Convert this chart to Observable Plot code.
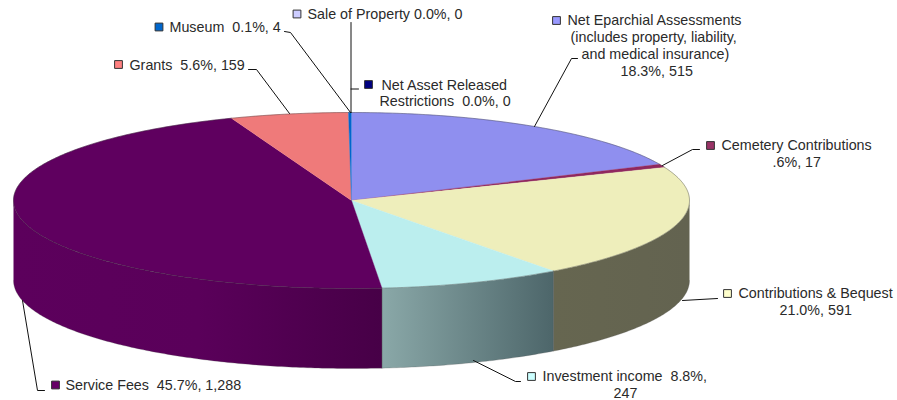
<!DOCTYPE html>
<html>
<head>
<meta charset="utf-8">
<script src="https://cdn.jsdelivr.net/npm/d3@7"></script>
<script src="https://cdn.jsdelivr.net/npm/@observablehq/plot@0.6"></script>
<style>
html,body{margin:0;padding:0;background:#fff;}
svg{display:block;}
</style>
</head>
<body>
<div id="chart"></div>
<script>
// ---- data, clockwise from the top of the pie ----
const categories = ["Net Asset Released Restrictions","Net Eparchial Assessments","Cemetery Contributions","Contributions & Bequest","Investment income","Service Fees","Grants","Museum","Sale of Property"];
const values = [0,515,17,591,247,1288,159,4,0];
const topColors = ["#000080","#8f8fef","#90285f","#eeeebb","#bbeeee","#5f005f","#ef7a7a","#0066cc","#ccccff"];
const swatchColors = ["#000080","#9999ff","#993366","#ffffcc","#ccffff","#660066","#ff8080","#0066cc","#ccccff"];
const sideStops = {
  "Contributions & Bequest": ["#666650","#636350"],
  "Investment income": ["#8aa8a8","#4d666a"],
  "Service Fees": ["#5c005c","#5a005a","#470047"]
};

// ---- label layout ----
const labelLines = [
  {t:"Sale of Property 0.0%, 0",x:307,y:14},
  {t:"Museum  0.1%, 4",x:169,y:27},
  {t:"Grants  5.6%, 159",x:129,y:65},
  {t:"Net Asset Released",x:381,y:85},
  {t:"Restrictions  0.0%, 0",x:379,y:101},
  {t:"Net Eparchial Assessments",x:567,y:20},
  {t:"(includes property, liability,",x:570,y:37},
  {t:"and medical insurance)",x:581,y:54},
  {t:"18.3%, 515",x:620,y:71},
  {t:"Cemetery Contributions",x:721,y:145},
  {t:".6%, 17",x:772,y:162},
  {t:"Contributions & Bequest",x:738,y:293},
  {t:"21.0%, 591",x:779,y:310},
  {t:"Investment income  8.8%,",x:542,y:376},
  {t:"247",x:613,y:393},
  {t:"Service Fees  45.7%, 1,288",x:65,y:385}
];
const swatches = [
  {c:"Sale of Property",x:296.5,y:13.5},
  {c:"Museum",x:158.5,y:26.5},
  {c:"Grants",x:118,y:64},
  {c:"Net Asset Released Restrictions",x:368,y:84},
  {c:"Net Eparchial Assessments",x:556,y:20},
  {c:"Cemetery Contributions",x:710,y:145},
  {c:"Contributions & Bequest",x:727,y:293},
  {c:"Investment income",x:531,y:376},
  {c:"Service Fees",x:55,y:384.5}
];
const leaders = [
  [[350.5,22],[350.5,112]],
  [[284,31],[290,32],[350,112]],
  [[248,69],[256,69],[289,113]],
  [[358,88.5],[350.5,88.5]],
  [[577,58],[571,58],[534,126]],
  [[699,149],[692,149],[662,165]],
  [[717,298],[682,300]],
  [[520,381],[515,381],[473,360]],
  [[44,390],[37,390],[22,300]]
];

// ---- pie geometry ----
const cx = 351, cy = 200, rx = 338, ry = 88, depth = 80;
const total = d3.sum(values);
const pt = (a, dy = 0) => ({x: cx + rx * Math.sin(a), y: cy - ry * Math.cos(a) + dy});
const arcPts = (a0, a1, dy = 0) => {
  const n = Math.max(1, Math.ceil(Math.abs(a1 - a0) * 90));
  return d3.range(n + 1).map(i => pt(a0 + (a1 - a0) * i / n, dy));
};
let run = 0;
const slices = categories.map((c, i) => {
  const a0 = run / total * 2 * Math.PI;
  run += values[i];
  return {c, color: topColors[i], a0, a1: run / total * 2 * Math.PI, value: values[i]};
});

const gid = c => "side-" + c.replace(/[^a-z]/gi, "");
const defsMark = () => {
  const defs = d3.create("svg:defs");
  for (const [c, stops] of Object.entries(sideStops)) {
    const g = defs.append("linearGradient").attr("id", gid(c)).attr("x1", 0).attr("x2", 1).attr("y1", 0).attr("y2", 0);
    stops.forEach((s, i) => g.append("stop").attr("offset", i / (stops.length - 1)).attr("stop-color", s));
  }
  return defs.node();
};

const sideMarks = slices.filter(s => sideStops[s.c]).map(s => {
  const a0 = Math.max(s.a0, Math.PI / 2), a1 = Math.min(s.a1, 1.5 * Math.PI);
  const poly = [...arcPts(a0, a1), ...arcPts(a1, a0, depth)];
  return Plot.line(poly, {x: "x", y: "y", fill: `url(#${gid(s.c)})`, stroke: "none"});
});
const topMarks = slices.filter(s => s.value > 0).map(s =>
  Plot.line([{x: cx, y: cy}, ...arcPts(s.a0, s.a1)], {x: "x", y: "y", fill: s.color, stroke: s.color, strokeWidth: 0.4})
);
const sideEdge = slices.filter(s => sideStops[s.c]).slice(0, -1).map(s => {
  const a = Math.max(s.a1, Math.PI / 2);
  return Plot.line([pt(a), pt(a, depth)], {x: "x", y: "y", stroke: "#333", strokeWidth: 0.6, strokeOpacity: 0.6});
});
const rim = Plot.line(arcPts(0, 2 * Math.PI), {x: "x", y: "y", stroke: "#333", strokeWidth: 0.7, strokeOpacity: 0.55});
const rimBottom = Plot.line(arcPts(Math.PI / 2, 1.5 * Math.PI, depth), {x: "x", y: "y", stroke: "#555", strokeWidth: 0.5, strokeOpacity: 0.5});

const colorOf = Object.fromEntries(categories.map((c, i) => [c, swatchColors[i]]));

const plot = Plot.plot({
  width: 897,
  height: 400,
  margin: 0,
  x: {domain: [0, 897], range: [0, 897], axis: null},
  y: {domain: [0, 400], range: [0, 400], axis: null},
  style: {background: "#fff", whiteSpace: "pre"},
  marks: [
    defsMark,
    ...sideMarks,
    ...topMarks,
    ...sideEdge,
    rim,
    rimBottom,
    ...leaders.map(l => Plot.line(l.map(([x, y]) => ({x, y})), {x: "x", y: "y", stroke: "#111", strokeWidth: 1})),
    Plot.dot(swatches, {x: "x", y: "y", symbol: "square", r: 4.4, fill: d => colorOf[d.c], stroke: "#333", strokeWidth: 1}),
    Plot.text(labelLines, {x: "x", y: "y", text: "t", textAnchor: "start", fontFamily: "Liberation Sans, Arial, sans-serif", fontSize: 14.3, fill: "#2a2a2a"})
  ]
});
document.getElementById("chart").appendChild(plot);
</script>
</body>
</html>
